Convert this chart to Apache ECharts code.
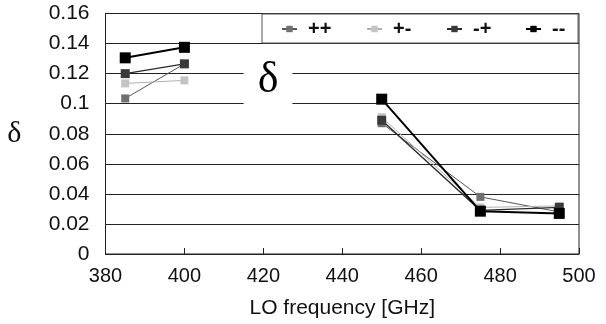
<!DOCTYPE html>
<html>
<head>
<meta charset="utf-8">
<script src="https://cdn.jsdelivr.net/npm/echarts@6/dist/echarts.min.js"></script>
<style>html,body{margin:0;padding:0;background:#fff}#c{width:606px;height:324px}</style>
</head>
<body>
<div id="c"></div>
<script>
const lowBand = [385, 400];
const highBand = [450, 475, 495];
const seriesNames = ['++', '+-', '-+', '--'];
const valsPP = [0.1035, 0.1265, 0.087, 0.038, 0.028];
const valsPM = [0.1135, 0.1155, 0.091, 0.031, 0.032];
const valsMP = [0.120, 0.1265, 0.089, 0.029, 0.031];
const valsMM = [0.1305, 0.1375, 0.103, 0.0285, 0.027];
const xTicks = [380, 400, 420, 440, 460, 480, 500];
const yTicks = [0, 0.02, 0.04, 0.06, 0.08, 0.1, 0.12, 0.14, 0.16];

const allVals = [valsPP, valsPM, valsMP, valsMM];
const colors = ['#707070', '#c4c4c4', '#3a3a3a', '#000000'];
const lineColors = ['#555555', '#b0b0b0', '#2a2a2a', '#000000'];
const lineW = [1, 1, 1.4, 2];
const symSize = [8, 8, 9, 11];
const legendLeft = [281, 366, 446, 525];

function buildData(vals) {
  const d = lowBand.map((f, j) => [f, vals[j]]);
  d.push('-'); // gap between the two measured bands
  highBand.forEach((f, j) => d.push([f, vals[lowBand.length + j]]));
  return d;
}

const font = 'Liberation Sans';
const chart = echarts.init(document.getElementById('c'));
chart.setOption({
  animation: false,
  grid: { left: 105.5, right: 27, top: 13.5, bottom: 70, show: true, borderColor: '#222', borderWidth: 1 },
  xAxis: {
    type: 'value', min: xTicks[0], max: xTicks[xTicks.length - 1], interval: 20,
    name: 'LO frequency [GHz]', nameLocation: 'middle', nameGap: 44,
    nameTextStyle: { fontFamily: font, fontSize: 21, color: '#111' },
    axisLine: { lineStyle: { color: '#222' } },
    axisTick: { inside: true, length: 6, lineStyle: { color: '#222' } },
    axisLabel: { fontFamily: font, fontSize: 20, color: '#111', margin: 12 },
    splitLine: { show: false }
  },
  yAxis: {
    type: 'value', min: yTicks[0], max: yTicks[yTicks.length - 1], interval: 0.02,
    name: 'δ', nameLocation: 'middle', nameRotate: 0, nameGap: 84,
    nameTextStyle: { fontFamily: 'Liberation Serif', fontSize: 30, color: '#111' },
    axisLine: { show: true, lineStyle: { color: '#222' } },
    axisTick: { show: false },
    axisLabel: { fontFamily: font, fontSize: 21, color: '#111', margin: 16,
      formatter: v => String(Math.round(v * 100) / 100) },
    splitLine: { lineStyle: { color: '#222', width: 1 } }
  },
  legend: seriesNames.map((n, i) => ({
    data: [n], left: legendLeft[i], top: 19, padding: 0, z: 20,
    itemWidth: 15, itemHeight: 8,
    textStyle: { fontFamily: font, fontSize: 20, fontWeight: 'bold', color: '#111', padding: [0, 0, 0, 6] }
  })),
  graphic: [{
    type: 'rect', z: 15,
    shape: { x: 262, y: 14, width: 316, height: 29 },
    style: { fill: '#fff', stroke: '#555', lineWidth: 1 }
  }, {
    type: 'text', z: 15,
    style: { x: 268, y: 80, text: 'δ', font: '44px "Liberation Serif"', fill: '#000',
      align: 'center', verticalAlign: 'middle',
      backgroundColor: '#fff', padding: [8, 14, 10, 14] }
  }],
  series: seriesNames.map((n, i) => ({
    name: n, type: 'line', symbol: 'rect', symbolSize: symSize[i],
    data: buildData(allVals[i]),
    connectNulls: false,
    lineStyle: { color: lineColors[i], width: lineW[i] },
    itemStyle: { color: colors[i] },
    z: 10 + i
  }))
});
</script>
</body>
</html>
